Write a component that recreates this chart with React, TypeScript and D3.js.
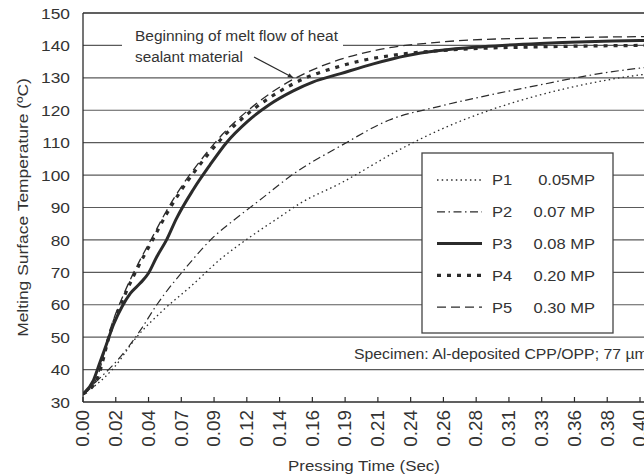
import { useEffect, useRef } from "react";
import * as d3 from "d3";

// x tick labels (category-like axis, evenly spaced)
const tickLabels = [
  "0.00", "0.02", "0.04", "0.07", "0.09", "0.12", "0.14", "0.16", "0.19",
  "0.21", "0.24", "0.26", "0.28", "0.31", "0.33", "0.36", "0.38", "0.40",
];
const yTicks = [30, 40, 50, 60, 70, 80, 90, 100, 110, 120, 130, 140, 150];

// [time (s), temperature (°C)]
const p1: [number, number][] = [
  [0, 32.5], [0.01, 35.5], [0.022, 40.5], [0.0385, 50], [0.058, 58.5], [0.077, 65.5],
  [0.098, 73.8], [0.122, 81.5], [0.141, 87], [0.156, 91.3], [0.185, 97.5], [0.228, 108],
  [0.256, 113.9], [0.292, 120], [0.328, 124.7], [0.364, 128.3], [0.4, 130.9], [0.42, 131.8],
];
const p2: [number, number][] = [
  [0, 32.5], [0.01, 36.5], [0.027, 44], [0.041, 52], [0.053, 60], [0.074, 71.5],
  [0.094, 81], [0.108, 86], [0.127, 92.3], [0.151, 100.3], [0.185, 109], [0.22, 117],
  [0.256, 121.2], [0.292, 124.7], [0.328, 127.8], [0.364, 130.8], [0.4, 133], [0.42, 133.8],
];
const p3: [number, number][] = [
  [0, 32.5], [0.0075, 36.7], [0.012, 42], [0.017, 48], [0.022, 54], [0.028, 59.4],
  [0.034, 63.5], [0.041, 66.6], [0.047, 69.7], [0.053, 74.8], [0.06, 80], [0.067, 86.5],
  [0.079, 95.4], [0.091, 103], [0.103, 110], [0.118, 116.5], [0.134, 121.8], [0.151, 126],
  [0.165, 128.7], [0.185, 131.3], [0.2085, 134.3], [0.232, 136.8], [0.256, 138.4],
  [0.287, 139.6], [0.328, 140.6], [0.4, 141.5], [0.42, 141.6],
];
const p4: [number, number][] = [
  [0, 32.5], [0.01, 37], [0.02, 52], [0.03, 63], [0.04, 72], [0.05, 80], [0.06, 88],
  [0.07, 95], [0.08, 101], [0.09, 106.5], [0.1, 111.5], [0.12, 119.5], [0.14, 125.5],
  [0.16, 130], [0.18, 133], [0.2, 135.3], [0.22, 136.8], [0.25, 138.2], [0.28, 139],
  [0.32, 139.5], [0.36, 139.8], [0.4, 140], [0.42, 140.1],
];
const p5: [number, number][] = [
  [0, 32.5], [0.01, 37.5], [0.02, 53], [0.03, 64], [0.04, 73], [0.05, 81], [0.06, 89],
  [0.07, 96], [0.08, 102], [0.09, 107.5], [0.1, 112.5], [0.12, 120.5], [0.14, 126.8],
  [0.16, 131.5], [0.18, 135], [0.2, 137.5], [0.22, 139.3], [0.25, 140.8], [0.28, 141.7],
  [0.32, 142.2], [0.36, 142.5], [0.4, 142.7], [0.42, 142.8],
];

const seriesNames = ["P1", "P2", "P3", "P4", "P5"];
const seriesPressures = ["0.05MP", "0.07 MP", "0.08 MP", "0.20 MP", "0.30 MP"];
const seriesData = [p1, p2, p3, p4, p5];

const styles = [
  { width: 1.3, dash: "1.5,3.2", cap: "butt" },
  { width: 1.2, dash: "8,3.5,1.5,3.5", cap: "butt" },
  { width: 3, dash: "", cap: "round" },
  { width: 3.2, dash: "4,6", cap: "butt" },
  { width: 1.3, dash: "9,5", cap: "butt" },
];

const FONT = "'Liberation Sans', Arial, sans-serif";
const TEXT = "#333";

type G = d3.Selection<any, unknown, null, undefined>;

// text with a horizontal stretch (the scan's type is a bit wider than Arial)
function addText(
  parent: G,
  o: { x: number; y: number; text: string; size: number; anchor?: string; rotate?: number; sx?: number; target?: number; dy?: string }
) {
  const t = parent
    .append("text")
    .attr("x", 0)
    .attr("y", 0)
    .attr("font-family", FONT)
    .attr("font-size", o.size)
    .attr("fill", TEXT)
    .attr("text-anchor", o.anchor || "start")
    .attr("dy", o.dy || null)
    .text(o.text);
  let s = o.sx ?? 1.1;
  if (o.target) {
    const len = (t.node() as SVGTextElement).getComputedTextLength();
    if (len > 0) s = o.target / len;
  }
  t.attr("transform", `translate(${o.x},${o.y}) rotate(${o.rotate || 0}) scale(${s},1)`);
  return t;
}

export default function App() {
  const svgRef = useRef<SVGSVGElement>(null);
  const width = 644;
  const height = 476;

  useEffect(() => {
    const svg = d3.select(svgRef.current) as unknown as G;
    svg.selectAll("*").remove();

    const left = 83;
    const top = 13;
    const bottom = 402;
    const n = tickLabels.length;
    const xMax = 0.4;
    const x = d3.scaleLinear().domain([0, xMax]).range([left, 640]);
    const y = d3.scaleLinear().domain([30, 150]).range([bottom, top]);
    const ink = "#2b2b2b";
    const grid = "#5a5a5a";

    // gridlines
    svg.append("g")
      .selectAll("line")
      .data(yTicks.filter((t) => t > 30 && t < 150))
      .join("line")
      .attr("x1", left)
      .attr("x2", width)
      .attr("y1", (d) => y(d))
      .attr("y2", (d) => y(d))
      .attr("stroke", grid)
      .attr("stroke-width", 1.1);

    // frame top + axes
    svg.append("line").attr("x1", left).attr("x2", width)
      .attr("y1", y(150)).attr("y2", y(150)).attr("stroke", ink).attr("stroke-width", 1.3);
    svg.append("line").attr("x1", left).attr("x2", width)
      .attr("y1", y(30)).attr("y2", y(30)).attr("stroke", ink).attr("stroke-width", 1.3);
    svg.append("line").attr("x1", left).attr("x2", left)
      .attr("y1", y(150)).attr("y2", y(30)).attr("stroke", ink).attr("stroke-width", 1.3);

    // y tick labels
    const yl = svg.append("g");
    yTicks.forEach((d) =>
      addText(yl, { x: 70, y: y(d), text: String(d), size: 15.5, anchor: "end", dy: "0.36em", sx: 1.12 })
    );

    // x ticks (inward) and rotated labels
    const tickVals = tickLabels.map((_, i) => (i * xMax) / (n - 1));
    svg.append("g")
      .selectAll("line")
      .data(tickVals)
      .join("line")
      .attr("x1", (d) => x(d))
      .attr("x2", (d) => x(d))
      .attr("y1", bottom)
      .attr("y2", bottom - 5)
      .attr("stroke", ink)
      .attr("stroke-width", 1.2);
    const xl = svg.append("g");
    tickLabels.forEach((lab, i) =>
      addText(xl, {
        x: x(tickVals[i]), y: bottom + 8, text: lab, size: 17.5, anchor: "end",
        rotate: -90, dy: "0.36em", sx: 1.08,
      })
    );

    // axis titles
    addText(svg, { x: 364, y: 471, text: "Pressing Time (Sec)", size: 15.5, anchor: "middle", target: 152 });
    addText(svg, {
      x: 28, y: 207.5, text: "Melting Surface Temperature (ºC)", size: 14,
      anchor: "middle", rotate: -90, target: 259,
    });

    // annotation background (hides the 140 gridline behind text)
    svg.append("rect").attr("x", 122).attr("y", 24).attr("width", 221).attr("height", 42)
      .attr("fill", "#fff");

    // curves
    const line = d3
      .line<[number, number]>()
      .x((d) => x(d[0]))
      .y((d) => y(d[1]))
      .curve(d3.curveMonotoneX);

    const clip = svg.append("clipPath").attr("id", "plot-clip");
    clip.append("rect").attr("x", left).attr("y", 0).attr("width", width).attr("height", bottom);

    svg.append("g")
      .attr("clip-path", "url(#plot-clip)")
      .selectAll("path")
      .data(seriesData)
      .join("path")
      .attr("d", (d) => line(d))
      .attr("fill", "none")
      .attr("stroke", ink)
      .attr("stroke-width", (_, i) => styles[i].width)
      .attr("stroke-dasharray", (_, i) => styles[i].dash || null)
      .attr("stroke-linecap", (_, i) => styles[i].cap);

    // annotation text + arrow
    addText(svg, { x: 135, y: 41, text: "Beginning of melt flow of heat", size: 14, target: 203 });
    addText(svg, { x: 135, y: 62, text: "sealant material", size: 14, target: 108 });
    const tipX = x(0.151);
    const tipY = y(130);
    svg.append("line")
      .attr("x1", 254).attr("y1", 57)
      .attr("x2", tipX).attr("y2", tipY)
      .attr("stroke", ink).attr("stroke-width", 1.2);
    const ang = Math.atan2(tipY - 57, tipX - 254);
    const ah = 6;
    svg.append("path")
      .attr("d", `M${tipX},${tipY} L${tipX - ah * Math.cos(ang - 0.4)},${tipY - ah * Math.sin(ang - 0.4)} L${tipX - ah * Math.cos(ang + 0.4)},${tipY - ah * Math.sin(ang + 0.4)} Z`)
      .attr("fill", ink);

    // legend
    const lg = svg.append("g");
    lg.append("rect")
      .attr("x", 422).attr("y", 153).attr("width", 191).attr("height", 180)
      .attr("fill", "#fff").attr("stroke", "#444").attr("stroke-width", 1.3);
    seriesNames.forEach((name, i) => {
      const ry = 180 + i * 31.8;
      lg.append("line")
        .attr("x1", 437).attr("x2", 482).attr("y1", ry).attr("y2", ry)
        .attr("stroke", ink)
        .attr("stroke-width", styles[i].width)
        .attr("stroke-dasharray", styles[i].dash || null);
      addText(lg, { x: 492, y: ry, text: name, size: 15, dy: "0.36em", sx: 1.1 });
      addText(lg, { x: 595, y: ry, text: seriesPressures[i], size: 15, dy: "0.36em", anchor: "end", sx: 1.1 });
    });

    // specimen note
    addText(svg, { x: 354, y: 359, text: "Specimen: Al-deposited CPP/OPP; 77 µm", size: 14.5, target: 294 });
  }, []);

  return (
    <svg
      ref={svgRef}
      width={width}
      height={height}
      style={{ position: "absolute", left: 0, top: 0, background: "#fff" }}
    />
  );
}
